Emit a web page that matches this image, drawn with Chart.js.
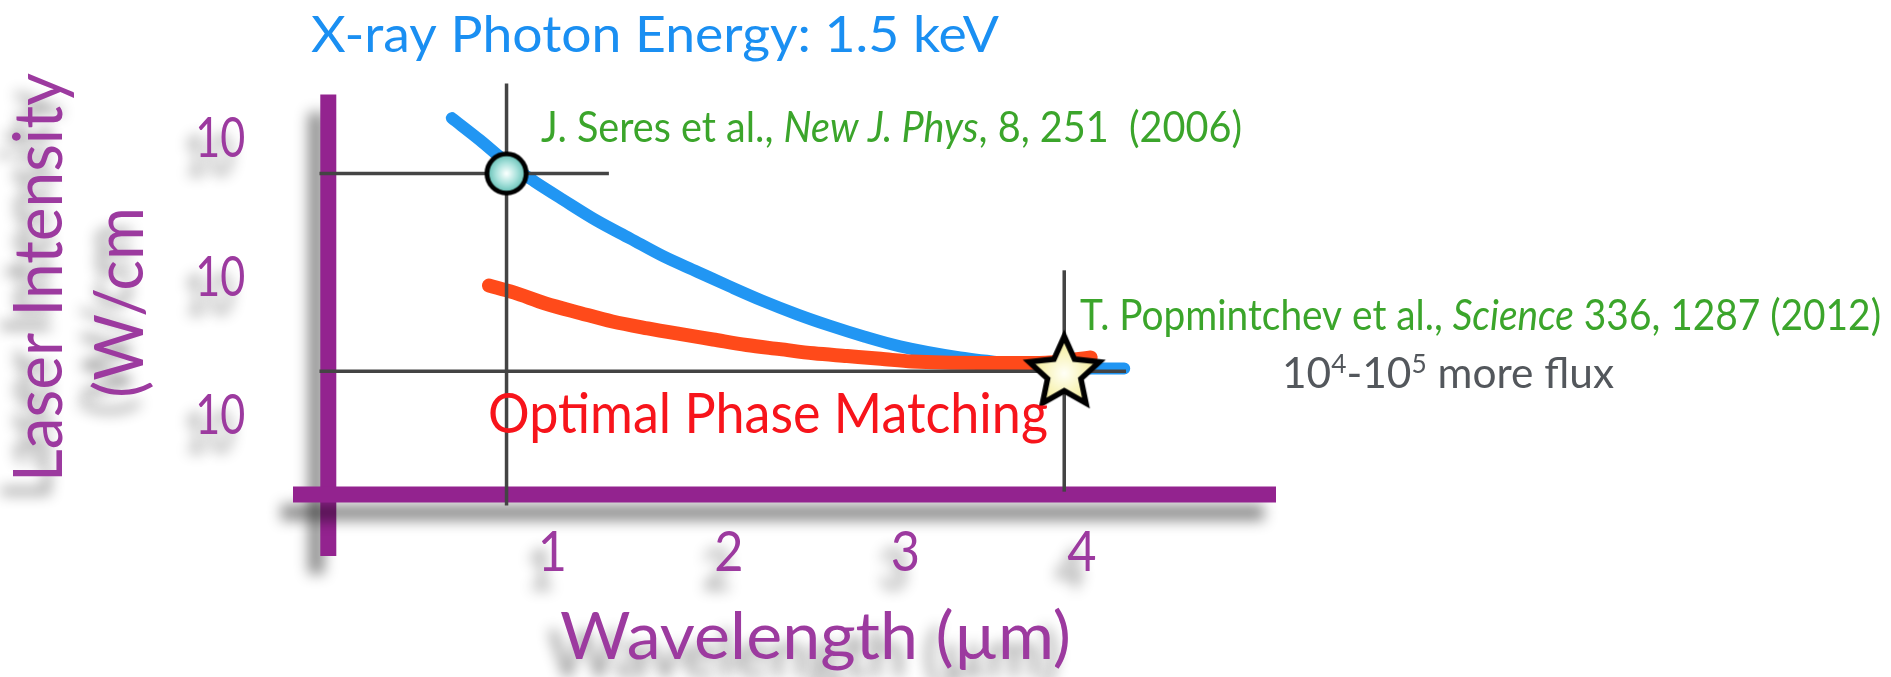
<!DOCTYPE html>
<html>
<head>
<meta charset="utf-8">
<script src="https://cdn.jsdelivr.net/npm/chart.js@4.4.1/dist/chart.umd.min.js"></script>
<style>
  html, body { margin: 0; padding: 0; background: #ffffff; overflow: hidden; }
  canvas { display: block; }
</style>
</head>
<body>
<canvas id="chart" width="1891" height="677"></canvas>
<script>
// Wavelength (µm) vs. laser intensity exponent (log10 of W/cm²)
// needed to reach 1.5 keV photons.
const blueWavelength = [0.43, 0.59, 0.74, 0.90, 1.06, 1.25, 1.44, 1.63, 1.82, 2.01, 2.19, 2.39, 2.57, 2.77, 2.97, 3.31, 3.65, 3.90, 4.24];
const blueIntensity  = [15.14, 14.98, 14.82, 14.68, 14.55, 14.40, 14.27, 14.14, 14.03, 13.92, 13.82, 13.72, 13.64, 13.56, 13.49, 13.41, 13.36, 13.33, 13.33];

// Optimal phase matching curve
const redWavelength = [0.64, 0.78, 0.96, 1.16, 1.34, 1.54, 1.72, 1.91, 2.10, 2.29, 2.48, 2.67, 2.86, 3.04, 3.42, 3.76, 4.05];
const redIntensity  = [13.93, 13.88, 13.80, 13.73, 13.67, 13.62, 13.58, 13.54, 13.50, 13.47, 13.44, 13.42, 13.40, 13.38, 13.37, 13.37, 13.41];

// Highlighted experiments: [wavelength, intensity exponent]
const seresPoint = [0.74, 14.74];
const popmintchevPoint = [3.90, 13.31];

// Guide lines through the two experiments (wavelength / intensity extents)
const seresHLine = [-0.32, 1.32];
const seresVLine = [12.34, 15.39];
const popHLine = [-0.32, 4.25];
const popVLine = [12.44, 14.04];

// Axis cross: where each bar sits, and how far it runs
const xAxisLevel = 12.42;
const yAxisLevel = -0.27;
const xRange = [-0.47, 5.1];
const yRange = [11.975, 15.56];
const yAxisTop = 15.31;

// Tick labels
const xTickValues = [1, 2, 3, 4];
const xTickLabels = ['1', '2', '3', '4'];
const yTickValues = [15, 14, 13];
const yTickLabels = ['10', '10', '10'];

const PURPLE_BAR = '#93238f';
const PURPLE_TEXT = '#9c3a9f';
const GUIDE = '#444444';
const FONT = 'Lato, "Open Sans", sans-serif';

function zip(xs, ys) { return xs.map((x, i) => ({ x, y: ys[i] })); }

function makeCircleMarker() {
  const c = document.createElement('canvas');
  c.width = 50; c.height = 50;
  const g = c.getContext('2d');
  const grd = g.createRadialGradient(25, 25, 1, 25, 25, 20);
  grd.addColorStop(0, '#f6fffd');
  grd.addColorStop(0.5, '#a9e2dc');
  grd.addColorStop(1, '#5bbcb1');
  g.beginPath();
  g.arc(25, 25, 19.6, 0, Math.PI * 2);
  g.fillStyle = grd;
  g.fill();
  g.lineWidth = 4.8;
  g.strokeStyle = '#000';
  g.stroke();
  return c;
}

function makeStarMarker() {
  const c = document.createElement('canvas');
  c.width = 110; c.height = 110;
  const g = c.getContext('2d');
  const cx = 55, cy = 57, R = 37, r = 17.5;
  g.beginPath();
  for (let i = 0; i < 10; i++) {
    const rad = i % 2 === 0 ? R : r;
    const a = -Math.PI / 2 + i * Math.PI / 5;
    const px = cx + rad * Math.cos(a), py = cy + rad * Math.sin(a);
    if (i === 0) g.moveTo(px, py); else g.lineTo(px, py);
  }
  g.closePath();
  const grd = g.createRadialGradient(cx, cy, 1, cx, cy, R);
  grd.addColorStop(0, '#fffff4');
  grd.addColorStop(0.6, '#f8f3b4');
  grd.addColorStop(1, '#eee38a');
  g.fillStyle = grd;
  g.fill();
  g.lineJoin = 'miter';
  g.lineWidth = 5.5;
  g.strokeStyle = '#000';
  g.stroke();
  return c;
}

function setShadow(ctx) {
  ctx.shadowColor = 'rgba(0,0,0,0.45)';
  ctx.shadowBlur = 14;
  ctx.shadowOffsetX = -12;
  ctx.shadowOffsetY = 18;
}

// Draws a run of text pieces (normal / italic / superscript), optionally
// squeezed to a given width.
function drawRuns(ctx, runs, x, y, size, color, width, shadow) {
  ctx.save();
  const fonts = runs.map(r => (r.it ? 'italic ' : '') + (r.sup ? size * 0.62 : size) + 'px ' + FONT);
  const widths = runs.map((r, i) => { ctx.font = fonts[i]; return ctx.measureText(r.t).width; });
  const total = widths.reduce((a, b) => a + b, 0);
  const k = width ? width / total : 1;
  if (shadow) setShadow(ctx);
  ctx.translate(x, y);
  ctx.scale(k, 1);
  ctx.fillStyle = color;
  ctx.textBaseline = 'alphabetic';
  ctx.textAlign = 'left';
  let cx = 0;
  runs.forEach((r, i) => {
    ctx.font = fonts[i];
    ctx.fillText(r.t, cx, r.sup ? -size * 0.36 : 0);
    cx += widths[i];
  });
  ctx.restore();
}

const shadowPlugin = {
  id: 'dropShadow',
  beforeDatasetDraw(chart, args) {
    if (!chart.data.datasets[args.index].dropShadow) return;
    chart.ctx.save();
    setShadow(chart.ctx);
  },
  afterDatasetDraw(chart, args) {
    if (chart.data.datasets[args.index].dropShadow) chart.ctx.restore();
  }
};

const labelPlugin = {
  id: 'slideText',
  afterDatasetsDraw(chart) {
    const ctx = chart.ctx;
    const xs = chart.scales.x, ys = chart.scales.y;

    // Tick labels
    const barY = ys.getPixelForValue(xAxisLevel);
    xTickValues.forEach((v, i) => {
      ctx.save();
      ctx.font = '56px ' + FONT;
      const w = ctx.measureText(xTickLabels[i]).width * 0.9;
      ctx.restore();
      drawRuns(ctx, [{ t: xTickLabels[i] }], xs.getPixelForValue(v) - w / 2, barY + 77, 56, PURPLE_TEXT, w, true);
    });
    const barX = xs.getPixelForValue(yAxisLevel);
    yTickValues.forEach((v, i) => {
      drawRuns(ctx, [{ t: yTickLabels[i] }], barX - 83 - 50, ys.getPixelForValue(v) + 20, 57, PURPLE_TEXT, 50, true);
    });

    // Axis titles
    drawRuns(ctx, [{ t: 'Wavelength (\u00b5m)' }], 560, 659, 66, PURPLE_TEXT, 511, true);
    ctx.save();
    ctx.translate(62, 482);
    ctx.rotate(-Math.PI / 2);
    drawRuns(ctx, [{ t: 'Laser Intensity' }], 0, 0, 68, PURPLE_TEXT, 409, true);
    ctx.restore();
    ctx.save();
    ctx.translate(143, 398);
    ctx.rotate(-Math.PI / 2);
    drawRuns(ctx, [{ t: '(W/cm' }], 0, 0, 68, PURPLE_TEXT, 191, true);
    ctx.restore();

    // Title and annotations
    drawRuns(ctx, [{ t: 'X-ray Photon Energy: 1.5 keV' }], 311, 52, 51, '#1a8ff2', 688, false);
    drawRuns(ctx, [
      { t: 'J. Seres et al., ' }, { t: 'New J. Phys', it: true }, { t: ', 8, 251  (2006)' }
    ], 541, 142, 43, '#3ba52b', 701, false);
    drawRuns(ctx, [
      { t: 'T. Popmintchev et al., ' }, { t: 'Science', it: true }, { t: ' 336, 1287 (2012)' }
    ], 1080, 330, 42, '#3ba52b', 801, false);
    drawRuns(ctx, [
      { t: '10' }, { t: '4', sup: true }, { t: '-10' }, { t: '5', sup: true }, { t: ' more flux' }
    ], 1282, 388, 43, '#53575c', 332, false);
    drawRuns(ctx, [{ t: 'Optimal Phase Matching' }], 488, 433, 56, '#f7141b', 560, false);
  }
};

function guide(points) {
  return {
    data: points, showLine: true, borderColor: GUIDE, borderWidth: 3.5,
    pointRadius: 0, borderCapStyle: 'butt', clip: false, order: 3
  };
}

function build() {
  const ctx = document.getElementById('chart').getContext('2d');
  new Chart(ctx, {
    type: 'scatter',
    data: {
      datasets: [
        // y axis bar
        {
          data: [{ x: yAxisLevel, y: yRange[0] }, { x: yAxisLevel, y: yAxisTop }],
          showLine: true, borderColor: PURPLE_BAR, borderWidth: 16, pointRadius: 0,
          borderCapStyle: 'butt', clip: false, dropShadow: true, order: 10
        },
        // x axis bar
        {
          data: [{ x: xRange[0], y: xAxisLevel }, { x: xRange[1], y: xAxisLevel }],
          showLine: true, borderColor: PURPLE_BAR, borderWidth: 16, pointRadius: 0,
          borderCapStyle: 'butt', clip: false, dropShadow: true, order: 9
        },
        // 1.5 keV cutoff curve
        {
          data: zip(blueWavelength, blueIntensity), showLine: true, borderColor: '#2196f3',
          borderWidth: 12, pointRadius: 0, cubicInterpolationMode: 'monotone',
          borderCapStyle: 'round', clip: false, order: 6
        },
        // Optimal phase matching curve
        {
          data: zip(redWavelength, redIntensity), showLine: true, borderColor: '#ff4a1a',
          borderWidth: 14, pointRadius: 0, cubicInterpolationMode: 'monotone',
          borderCapStyle: 'round', clip: false, order: 5
        },
        guide([{ x: seresHLine[0], y: seresPoint[1] }, { x: seresHLine[1], y: seresPoint[1] }]),
        guide([{ x: seresPoint[0], y: seresVLine[0] }, { x: seresPoint[0], y: seresVLine[1] }]),
        guide([{ x: popHLine[0], y: popmintchevPoint[1] }, { x: popHLine[1], y: popmintchevPoint[1] }]),
        guide([{ x: popmintchevPoint[0], y: popVLine[0] }, { x: popmintchevPoint[0], y: popVLine[1] }]),
        {
          data: [{ x: seresPoint[0], y: seresPoint[1] }],
          pointStyle: makeCircleMarker(), pointRadius: 20, clip: false, order: 1
        },
        {
          data: [{ x: popmintchevPoint[0], y: popmintchevPoint[1] }],
          pointStyle: makeStarMarker(), pointRadius: 30, clip: false, order: 0
        }
      ]
    },
    options: {
      responsive: false,
      animation: false,
      events: [],
      layout: { padding: { left: 293, right: 615, top: 60, bottom: 121 } },
      plugins: { legend: { display: false }, tooltip: { enabled: false }, title: { display: false } },
      scales: {
        x: { type: 'linear', min: xRange[0], max: xRange[1], display: false },
        y: { type: 'linear', min: yRange[0], max: yRange[1], display: false }
      }
    },
    plugins: [shadowPlugin, labelPlugin]
  });
}

if (document.fonts && document.fonts.load) {
  Promise.all([
    document.fonts.load('50px Lato'),
    document.fonts.load('italic 50px Lato')
  ]).then(build, build);
} else {
  build();
}
</script>
</body>
</html>
